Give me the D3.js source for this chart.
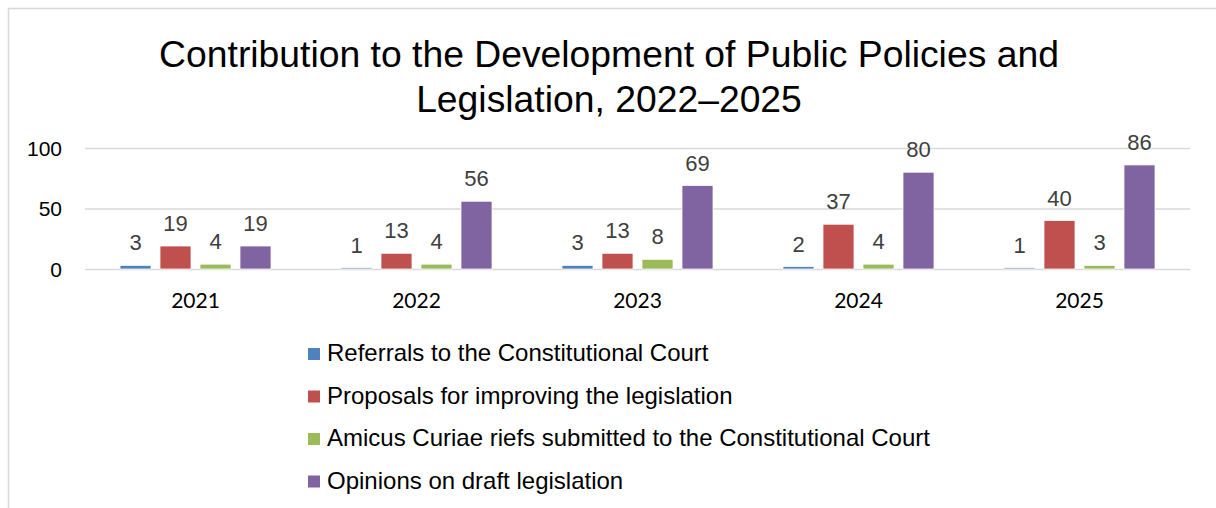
<!DOCTYPE html>
<html>
<head>
<meta charset="utf-8">
<script src="https://cdn.jsdelivr.net/npm/d3@7"></script>
<style>
  html, body { margin: 0; padding: 0; background: #fff; }
  svg { display: block; }
</style>
</head>
<body>
<svg id="chart" width="1216" height="508"></svg>
<script>
// Chart data
const years = ["2021", "2022", "2023", "2024", "2025"];
const seriesNames = [
  "Referrals to the Constitutional Court",
  "Proposals for improving the legislation",
  "Amicus Curiae riefs submitted to the Constitutional Court",
  "Opinions on draft legislation"
];
const referrals = [3, 1, 3, 2, 1];
const proposals = [19, 13, 13, 37, 40];
const amicus = [4, 4, 8, 4, 3];
const opinions = [19, 56, 69, 80, 86];
const yTicks = [0, 50, 100];
const colors = ["#4F81BD", "#C0504D", "#9BBB59", "#8064A2"];
const titleLines = ["Contribution to the Development of Public Policies and", "Legislation, 2022\u20132025"];

const seriesValues = [referrals, proposals, amicus, opinions];

const svg = d3.select("#chart");

// Chart frame
svg.append("rect")
  .attr("x", 8.5).attr("y", 8.5)
  .attr("width", 1240).attr("height", 540)
  .attr("fill", "#fff")
  .attr("stroke", "#d9d9d9").attr("stroke-width", 1.5);

// Title
svg.append("g").selectAll("text")
  .data(titleLines)
  .join("text")
  .attr("x", 609)
  .attr("y", (d, i) => 67 + i * 45)
  .attr("text-anchor", "middle")
  .attr("font-family", "Liberation Sans, Arial, sans-serif")
  .attr("font-size", 37.3)
  .attr("fill", "#000")
  .text(d => d);

// Plot area
const plot = { left: 85, right: 1190, top: 148, bottom: 269 };
const groupWidth = 151;

const x = d3.scaleBand()
  .domain(years)
  .range([plot.left, plot.right]);

const xInner = d3.scaleBand()
  .domain(d3.range(seriesNames.length))
  .range([0, groupWidth])
  .paddingInner(0.225)
  .paddingOuter(0);

const y = d3.scaleLinear()
  .domain([0, 100])
  .range([plot.bottom, plot.top]);

// Gridlines
svg.append("g")
  .selectAll("line")
  .data(yTicks)
  .join("line")
  .attr("x1", plot.left).attr("x2", plot.right)
  .attr("y1", d => y(d) + 0.5).attr("y2", d => y(d) + 0.5)
  .attr("stroke", "#d9d9d9").attr("stroke-width", 1.5);

// Y axis labels
const yAxis = d3.axisLeft(y).tickValues(yTicks).tickSize(0).tickPadding(0);
const yG = svg.append("g")
  .attr("transform", `translate(${62},0)`)
  .call(yAxis);
yG.select(".domain").remove();
yG.selectAll("text")
  .attr("font-family", "Liberation Sans, Arial, sans-serif")
  .attr("font-size", 21)
  .attr("fill", "#000")
  .attr("dy", "0.35em");

// X axis labels
const xAxis = d3.axisBottom(x).tickSize(0).tickPadding(0);
const xG = svg.append("g")
  .attr("transform", `translate(0,${plot.bottom})`)
  .call(xAxis);
xG.select(".domain").remove();
xG.selectAll("text")
  .attr("font-family", "Lato, Calibri, sans-serif")
  .attr("font-size", 21)
  .attr("fill", "#000")
  .attr("dy", 0)
  .attr("y", 39);

// Bars
const groups = svg.append("g")
  .selectAll("g")
  .data(years)
  .join("g")
  .attr("transform", d => `translate(${x(d) + x.bandwidth() / 2 - groupWidth / 2},0)`);

const cells = groups.selectAll("g.cell")
  .data((d, yi) => seriesValues.map((vals, si) => ({ si, v: vals[yi] })))
  .join("g").attr("class", "cell");

cells.append("rect")
  .attr("x", d => xInner(d.si))
  .attr("width", xInner.bandwidth())
  .attr("y", d => y(d.v))
  .attr("height", d => y(0) - y(d.v))
  .attr("fill", d => colors[d.si])
  .attr("stroke", "#fff").attr("stroke-width", 0.75);

// Data labels
cells.append("text")
  .attr("x", d => xInner(d.si) + xInner.bandwidth() / 2)
  .attr("y", d => y(d.v) - 15)
  .attr("text-anchor", "middle")
  .attr("font-family", "Liberation Sans, Arial, sans-serif")
  .attr("font-size", 22)
  .attr("fill", "#404040")
  .text(d => d.v);

// Legend
const legend = svg.append("g")
  .selectAll("g")
  .data(seriesNames)
  .join("g")
  .attr("transform", (d, i) => `translate(308,${361 + i * 42.5})`);

legend.append("rect")
  .attr("x", 0).attr("y", -13)
  .attr("width", 12).attr("height", 12)
  .attr("fill", (d, i) => colors[i]);

legend.append("text")
  .attr("x", 19).attr("y", 0)
  .attr("font-family", "Liberation Sans, Arial, sans-serif")
  .attr("font-size", 24)
  .attr("fill", "#000")
  .text(d => d);
</script>
</body>
</html>
